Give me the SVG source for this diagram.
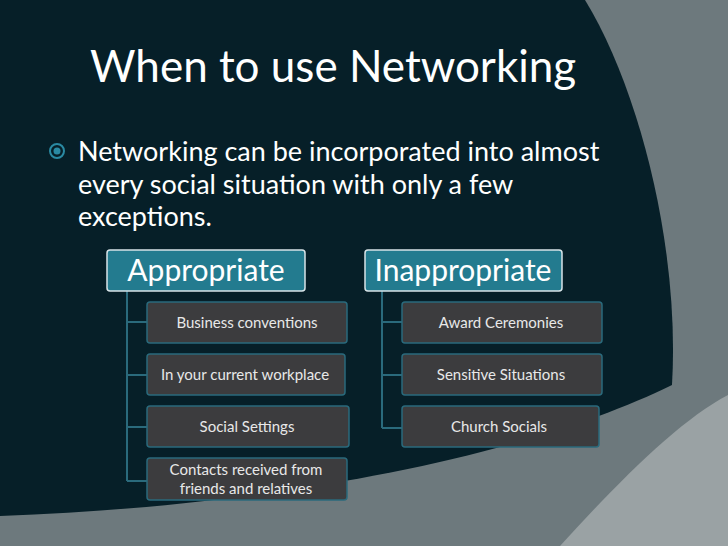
<svg xmlns="http://www.w3.org/2000/svg" width="728" height="546" viewBox="0 0 728 546">
<style>
.t{font-family:Lato,"Open Sans",sans-serif;fill:#ffffff}
.h{fill:#237b8f;stroke:#d8e4e8;stroke-width:1.5}
.c{fill:#3c3c3e;stroke:#2a6a7c;stroke-width:1.5}
.ct{font-family:Lato,"Open Sans",sans-serif;fill:#e8e8e8;font-size:15px;text-anchor:middle}
.ht{font-family:Lato,"Open Sans",sans-serif;fill:#ffffff;font-size:30px;text-anchor:middle}
.ln{stroke:#2a6a7c;stroke-width:2;fill:none}
</style>
<rect width="728" height="546" fill="#6d797d"/>
<path d="M560,546 C620,480 680,420 728,395 L728,546 Z" fill="#9aa2a4"/>
<path d="M0,0 L585,0 C640,90 680,250 672,385 C540,450 300,505 0,516 Z" fill="#061f28"/>
<text class="t" x="90" y="82" font-size="44">When to use Networking</text>
<circle cx="57" cy="151" r="7" fill="none" stroke="#2a8aa3" stroke-width="2"/>
<circle cx="57" cy="151" r="3.5" fill="#2a8aa3"/>
<text class="t" font-size="27" x="78" y="161">Networking can be incorporated into almost</text>
<text class="t" font-size="27" x="78" y="194">every social situation with only a few</text>
<text class="t" font-size="27" x="78" y="226">exceptions.</text>
<g id="connectors">
<path class="ln" d="M127,291 V481 M127,322 H147 M127,375 H147 M127,427 H147 M127,481 H147"/>
<path class="ln" d="M382,291 V428 M382,322 H402 M382,375 H402 M382,428 H402"/>
</g>
<g id="appropriate"><rect class="h" x="107" y="250" width="198" height="41" rx="3"/><text class="ht" x="206" y="281">Appropriate</text></g>
<g id="inappropriate"><rect class="h" x="365" y="250" width="197" height="41" rx="3"/><text class="ht" x="463" y="281">Inappropriate</text></g>
<g id="a1"><rect class="c" x="147" y="302" width="200" height="41" rx="3"/><text class="ct" x="247" y="328">Business conventions</text></g>
<g id="a2"><rect class="c" x="147" y="354" width="198" height="41" rx="3"/><text class="ct" x="245" y="380">In your current workplace</text></g>
<g id="a3"><rect class="c" x="147" y="406" width="202" height="41" rx="3"/><text class="ct" x="247" y="432">Social Settings</text></g>
<g id="a4"><rect class="c" x="147" y="458" width="200" height="42" rx="3"/><text class="ct" x="246" y="475">Contacts received from</text><text class="ct" x="246" y="494">friends and relatives</text></g>
<g id="i1"><rect class="c" x="402" y="302" width="200" height="41" rx="3"/><text class="ct" x="501" y="328">Award Ceremonies</text></g>
<g id="i2"><rect class="c" x="402" y="354" width="200" height="41" rx="3"/><text class="ct" x="501" y="380">Sensitive Situations</text></g>
<g id="i3"><rect class="c" x="402" y="406" width="197" height="41" rx="3"/><text class="ct" x="499" y="432">Church Socials</text></g>
</svg>
